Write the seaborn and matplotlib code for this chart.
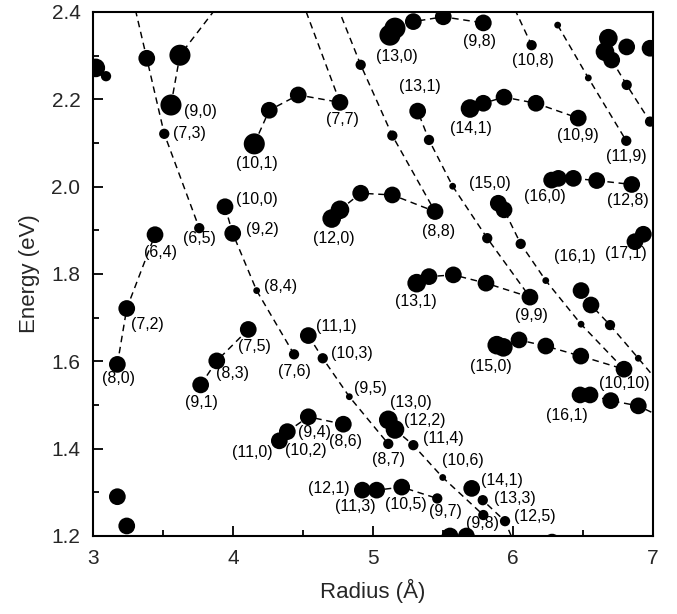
import matplotlib
matplotlib.use("Agg")
import matplotlib.pyplot as plt
from matplotlib.ticker import MultipleLocator
import numpy as np
import pandas as pd
import seaborn as sns

# ---------------- data ----------------
# every point: branch id (line it sits on, '' = no line), radius, energy, size class
pt_branch = (["f16"] * 3 + ["f17"] * 3 + ["f18"] * 2 + ["f19"] * 3 + ["f20"] * 4 +
             ["f21"] * 4 + ["f22"] * 4 + ["f23"] * 4 + ["f24"] * 7 + ["f25"] * 4 +
             ["f26u"] * 5 + ["f26"] * 5 + ["f27"] * 9 + ["f28"] * 1 + ["f29u"] * 5 +
             ["f29"] * 3 + ["f30"] * 11 + ["f31"] * 3 + ["f32"] * 5 + ["f33u"] * 4 +
             ["f33"] * 4 + ["f34"] * 3 + [""] * 13)
pt_R = [3.174, 3.241, 3.443,
        3.384, 3.509, 3.759,
        3.557, 3.621,
        3.769, 3.884, 4.109,
        3.943, 3.998, 4.169, 4.436,
        4.152, 4.259, 4.466, 4.764,
        4.331, 4.388, 4.538, 4.788,
        4.538, 4.641, 4.831, 5.109,
        4.705, 4.764, 4.912, 5.138, 5.443, 5.138, 4.912,
        4.924, 5.026, 5.205, 5.459,
        5.121, 5.157, 5.288, 5.502, 5.788,
        5.109, 5.157, 5.288, 5.498, 5.788,
        5.312, 5.400, 5.574, 5.807, 6.121, 5.816, 5.569, 5.400, 5.319,
        6.133,
        5.693, 5.788, 5.936, 6.164, 6.466,
        5.705, 5.784, 5.943,
        5.895, 5.936, 6.055, 6.234, 6.486, 6.793, 6.484, 6.234, 6.043, 5.931, 5.884,
        6.319, 6.538, 6.809,
        6.276, 6.324, 6.431, 6.598, 6.848,
        6.486, 6.557, 6.693, 6.895,
        6.479, 6.550, 6.698, 6.895,
        6.705, 6.812, 6.979,
        6.681, 6.657, 6.812, 6.979, 6.871, 6.931, 3.020, 3.093, 3.174, 3.241,
        5.550, 5.667, 6.279]
pt_E = [1.593, 1.721, 1.890,
        2.294, 2.121, 1.905,
        2.187, 2.301,
        1.546, 1.601, 1.673,
        1.954, 1.893, 1.762, 1.616,
        2.098, 2.175, 2.210, 2.193,
        1.418, 1.439, 1.473, 1.456,
        1.659, 1.607, 1.519, 1.411,
        1.927, 1.947, 1.985, 1.981, 1.943, 2.117, 2.279,
        1.305, 1.305, 1.312, 1.286,
        2.347, 2.363, 2.378, 2.389, 2.375,
        1.466, 1.444, 1.408, 1.334, 1.248,
        1.779, 1.794, 1.798, 1.779, 1.747, 1.882, 2.001, 2.107, 2.173,
        2.324,
        2.179, 2.191, 2.205, 2.191, 2.157,
        1.309, 1.282, 1.234,
        1.962, 1.947, 1.869, 1.785, 1.685, 1.582, 1.612, 1.635, 1.649, 1.632, 1.637,
        2.370, 2.249, 2.105,
        2.015, 2.019, 2.019, 2.014, 2.005,
        1.762, 1.729, 1.683, 1.607,
        1.523, 1.523, 1.510, 1.498,
        2.290, 2.233, 2.149,
        2.340, 2.309, 2.320, 2.317, 1.874, 1.891, 2.272, 2.253, 1.290, 1.223,
        1.200, 1.200, 1.186]
pt_size = ["M", "M", "M",
           "M", "S", "S",
           "L", "L",
           "M", "M", "M",
           "M", "M", "T", "S",
           "L", "M", "M", "M",
           "M", "M", "M", "M",
           "M", "S", "T", "S",
           "ML", "ML", "M", "M", "M", "S", "S",
           "M", "M", "M", "S",
           "L", "L", "M", "M", "M",
           "ML", "ML", "S", "T", "S",
           "ML", "M", "M", "M", "M", "S", "T", "S", "M",
           "S",
           "ML", "M", "M", "M", "M",
           "M", "S", "S",
           "M", "M", "S", "T", "T", "M", "M", "M", "M", "ML", "ML",
           "T", "T", "S",
           "M", "M", "M", "M", "M",
           "M", "M", "S", "T",
           "M", "M", "M", "M",
           "M", "S", "S",
           "ML", "ML", "M", "M", "M", "M", "ML", "S", "M", "M",
           "M", "M", "M"]

# where the dashed lines run on past their end points
ext_branch = ["f17", "f18", "f21", "f24", "f28", "f29", "f33u", "f33", "f34"]
ext_where = ["start", "end", "end", "end", "start", "end", "end", "end", "end"]
ext_R = [3.27, 3.978, 4.465, 4.699, 5.949, 6.029, 7.121, 7.121, 7.121]
ext_E = [2.45, 2.45, 2.45, 2.45, 2.45, 1.168, 1.521, 1.463, 2.084]

# (n,m) labels
lbl_text = ["(9,0)", "(7,3)", "(10,1)", "(7,7)", "(13,0)", "(9,8)", "(10,8)", "(13,1)",
            "(14,1)", "(10,9)", "(11,9)", "(10,0)", "(9,2)", "(6,5)", "(6,4)", "(12,0)",
            "(8,8)", "(15,0)", "(16,0)", "(12,8)", "(16,1)", "(17,1)", "(7,2)", "(8,0)",
            "(8,4)", "(7,5)", "(8,3)", "(9,1)", "(11,0)", "(11,1)", "(10,3)", "(7,6)",
            "(9,5)", "(13,0)", "(12,2)", "(9,4)", "(10,2)", "(8,6)", "(11,4)", "(8,7)",
            "(10,6)", "(12,1)", "(11,3)", "(10,5)", "(9,7)", "(14,1)", "(13,3)", "(12,5)",
            "(9,8)", "(13,1)", "(9,9)", "(15,0)", "(10,10)", "(16,1)"]
lbl_R = [3.768, 3.686, 4.171, 4.782, 5.169, 5.764, 6.145, 5.336,
         5.699, 6.466, 6.812, 4.169, 4.207, 3.757, 3.480, 4.721,
         5.466, 5.836, 6.229, 6.824, 6.443, 6.807, 3.386, 3.181,
         4.343, 4.150, 3.993, 3.776, 4.139, 4.741, 4.848, 4.436,
         4.984, 5.270, 5.371, 4.579, 4.520, 4.807, 5.502, 5.114,
         5.645, 4.686, 4.877, 5.234, 5.514, 5.919, 6.011, 6.157,
         5.782, 5.306, 6.129, 5.845, 6.793, 6.384]
lbl_E = [2.173, 2.121, 2.053, 2.153, 2.298, 2.332, 2.288, 2.229,
         2.134, 2.118, 2.069, 1.971, 1.903, 1.881, 1.850, 1.882,
         1.897, 2.008, 1.977, 1.969, 1.840, 1.847, 1.685, 1.561,
         1.771, 1.635, 1.571, 1.505, 1.391, 1.679, 1.618, 1.576,
         1.538, 1.505, 1.464, 1.437, 1.395, 1.416, 1.424, 1.376,
         1.372, 1.309, 1.267, 1.271, 1.257, 1.327, 1.286, 1.244,
         1.229, 1.737, 1.706, 1.589, 1.550, 1.475]

# ---------------- build tables ----------------
pts = pd.DataFrame({"branch": pt_branch, "R": pt_R, "E": pt_E, "sz": pt_size})

rows = []
for b in dict.fromkeys(b for b in pt_branch if b):
    seg = pts[pts.branch == b][["R", "E"]].values.tolist()
    for bb, w, r, e in zip(ext_branch, ext_where, ext_R, ext_E):
        if bb == b:
            if w == "start":
                seg = [[r, e]] + seg
            else:
                seg = seg + [[r, e]]
    for i, (r, e) in enumerate(seg):
        rows.append({"branch": b, "order": i, "R": r, "E": e})
lines = pd.DataFrame(rows)

# ---------------- figure ----------------
sns.set_theme(style="ticks")
plt.rcParams["font.family"] = ["Liberation Sans", "DejaVu Sans"]

fig = plt.figure(figsize=(6.77, 6.14), dpi=100)
ax = fig.add_axes([93 / 677, 1 - 536 / 614, 560 / 677, 524 / 614])

sns.lineplot(data=lines, x="R", y="E", units="branch", estimator=None, sort=False,
             color="black", linewidth=1.05, linestyle=(0, (4.5, 3.2)), ax=ax,
             legend=False, zorder=2)

size_map = {"L": 230, "ML": 180, "M": 145, "S": 55, "T": 24}
sns.scatterplot(data=pts, x="R", y="E", size="sz", sizes=size_map, color="black",
                linewidth=0, legend=False, ax=ax, zorder=3)

for t, r, e in zip(lbl_text, lbl_R, lbl_E):
    ax.text(r, e, t, fontsize=11.5, ha="center", va="center", color="black", zorder=4)

ax.set_xlim(3, 7)
ax.set_ylim(1.2, 2.4)
ax.xaxis.set_major_locator(MultipleLocator(1))
ax.xaxis.set_minor_locator(MultipleLocator(0.5))
ax.yaxis.set_major_locator(MultipleLocator(0.2))
ax.yaxis.set_minor_locator(MultipleLocator(0.1))
ax.yaxis.set_major_formatter(matplotlib.ticker.FormatStrFormatter("%.1f"))

ax.tick_params(which="both", direction="in", top=False, right=False, color="black",
               width=1.3)
ax.tick_params(which="major", length=7.5, labelsize=15, pad=9)
ax.tick_params(which="minor", length=4)
for s in ax.spines.values():
    s.set_visible(True)
    s.set_linewidth(1.5)
    s.set_color("black")

ax.set_xlabel("Radius (Å)", fontsize=16, labelpad=8)
ax.set_ylabel("Energy (eV)", fontsize=16, labelpad=8)

fig.savefig("out.png", dpi=100)
